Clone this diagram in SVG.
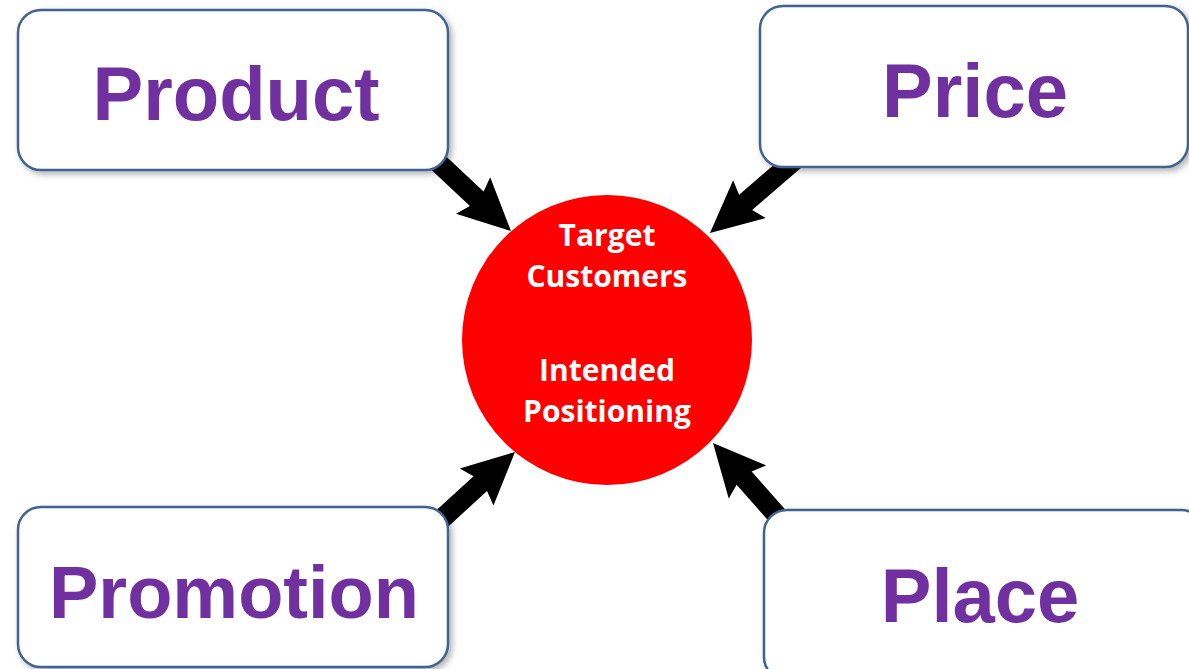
<svg xmlns="http://www.w3.org/2000/svg" width="1189" height="669" viewBox="0 0 1189 669">
<style>
.box{fill:#fff;stroke:#3f6391;stroke-width:2.5;filter:url(#sh)}
.lbl{font-family:"Liberation Sans",Arial,sans-serif;font-weight:bold;font-size:76px;fill:#7030a0;text-anchor:middle}
.ct{font-family:"Open Sans","Liberation Sans",sans-serif;font-weight:bold;font-size:30px;fill:#fff;text-anchor:middle}
.arr{fill:#000}
</style>
<defs>
<filter id="sh" x="-10%" y="-10%" width="125%" height="130%">
<feDropShadow dx="3" dy="3" stdDeviation="3" flood-color="#000" flood-opacity="0.3"/>
</filter>
</defs>
<rect width="1189" height="669" fill="#fff"/>
<g id="connectors">
<polygon class="arr" transform="translate(511,231) rotate(43.2)" points="0,0 -52,-25 -47,-10 -115,-10 -115,10 -47,10 -52,25"/>
<polygon class="arr" transform="translate(710,233) rotate(139.3)" points="0,0 -52,-25 -47,-10 -115,-10 -115,10 -47,10 -52,25"/>
<polygon class="arr" transform="translate(515,452) rotate(-42.4)" points="0,0 -52,-25 -47,-10 -115,-10 -115,10 -47,10 -52,25"/>
<polygon class="arr" transform="translate(713,443) rotate(228.5)" points="0,0 -52,-25 -47,-10 -120,-10 -120,10 -47,10 -52,25"/>
</g>
<g id="center">
<circle cx="607" cy="340" r="145" fill="#ff0000"/>
<text class="ct" x="607" y="246">Target</text>
<text class="ct" x="607" y="287">Customers</text>
<text class="ct" x="607" y="381">Intended</text>
<text class="ct" x="607" y="422">Positioning</text>
</g>
<g id="product">
<rect class="box" x="18" y="10" width="430" height="160" rx="23"/>
<text class="lbl" x="236" y="120">Product</text>
</g>
<g id="price">
<rect class="box" x="760" y="6" width="428" height="161" rx="23"/>
<text class="lbl" x="975" y="117">Price</text>
</g>
<g id="promotion">
<rect class="box" x="18" y="507" width="430" height="160" rx="23"/>
<text class="lbl" x="234" y="618" style="font-size:74px">Promotion</text>
</g>
<g id="place">
<rect class="box" x="764" y="510" width="440" height="170" rx="23"/>
<text class="lbl" x="980" y="622">Place</text>
</g>
</svg>
